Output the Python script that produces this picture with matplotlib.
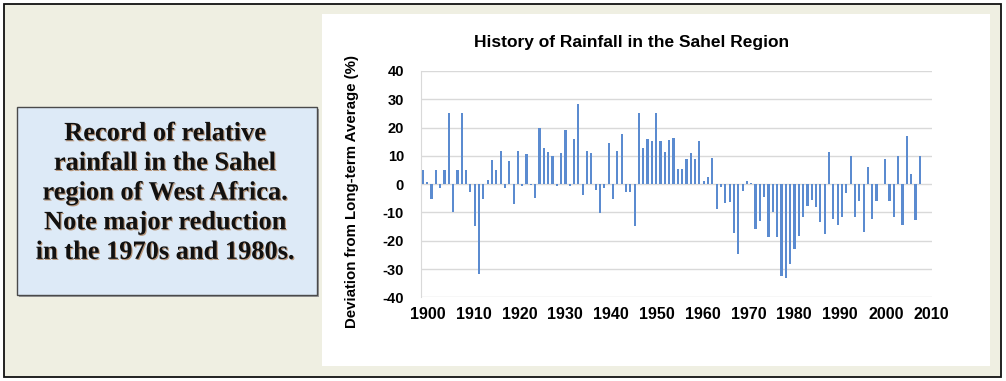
import matplotlib

matplotlib.use("Agg")
import matplotlib.pyplot as plt
import matplotlib.patheffects as pe
from matplotlib.patches import Rectangle
import numpy as np


FIG_W = 1006
FIG_H = 381
DPI = 100

BAR_COLOR = "#5B8BD0"
GRID_COLOR = "#D9D9D9"
PANEL_COLOR = "#EFEFE2"
NOTE_COLOR = "#DDEAF7"

# Sahel rainfall, deviation from long-term average (%), one value per year
first_year = 1900
rainfall_deviation = [
    5.0, 0.7, -5.2, 5.0, -1.2, 5.0, 25.0, -9.9, 5.0, 25.0,
    5.0, -2.6, -14.7, -31.7, -5.2, 1.5, 8.6, 5.1, 11.6, -1.4,
    8.2, -7.1, 11.6, -0.8, 10.6, -0.3, -4.8, 20.0, 12.7, 11.2,
    10.1, -0.7, 11.1, 19.1, -0.6, 16.1, 28.2, -3.8, 11.6, 11.1,
    -1.9, -10.2, -1.2, 14.4, -5.2, 11.7, 17.6, -2.7, -2.7, -14.7,
    25.0, 12.7, 16.1, 15.3, 25.0, 15.4, 11.2, 15.5, 16.4, 5.2,
    5.2, 8.8, 11.1, 8.8, 15.4, 1.2, 2.6, 9.4, -8.7, -0.9,
    -6.5, -6.3, -17.1, -24.6, -2.3, 1.2, 0.3, -15.8, -12.9, -4.7,
    -18.8, -10.0, -18.8, -32.3, -33.3, -28.4, -22.8, -18.4, -11.7, -7.9,
    -5.6, -8.2, -13.3, -17.5, 11.5, -12.3, -14.3, -11.6, -3.2, 10.0,
    -11.7, -6.1, -17.0, 6.1, -12.3, -5.9, 0.0, 9.0, -5.8, -11.7,
    10.0, -14.6, 17.0, 3.5, -12.8, 10.0,
]
decade_labels = ["1900", "1910", "1920", "1930", "1940", "1950",
                 "1960", "1970", "1980", "1990", "2000", "2010"]
y_ticks = [40, 30, 20, 10, 0, -10, -20, -30, -40]

note_text = ("Record of relative\nrainfall in the Sahel\nregion of West Africa.\n"
             "Note major reduction\nin the 1970s and 1980s.")


def px_rect(x0, y0, x1, y1):
    # pixel box (top-left origin) -> figure-fraction rectangle
    return (x0 / FIG_W, 1 - y1 / FIG_H, (x1 - x0) / FIG_W, (y1 - y0) / FIG_H)


fig = plt.figure(figsize=(FIG_W / DPI, FIG_H / DPI), dpi=DPI)
fig.patch.set_facecolor("white")

x0, y0, w, h = px_rect(4, 4, 1001, 377)
fig.patches.append(Rectangle((x0, y0), w, h, transform=fig.transFigure,
                             facecolor=PANEL_COLOR, edgecolor="#111111",
                             linewidth=1.3, zorder=0))
x0, y0, w, h = px_rect(322, 14, 990, 366)
fig.patches.append(Rectangle((x0, y0), w, h, transform=fig.transFigure,
                             facecolor="white", edgecolor="none", zorder=1))

# note box with a soft shadow
x0, y0, w, h = px_rect(19, 109, 319, 297)
fig.patches.append(Rectangle((x0, y0), w, h, transform=fig.transFigure,
                             facecolor="#9A9A9A", edgecolor="none", zorder=1))
x0, y0, w, h = px_rect(17, 107, 317, 295)
fig.patches.append(Rectangle((x0, y0), w, h, transform=fig.transFigure,
                             facecolor=NOTE_COLOR, edgecolor="#4A4A4A",
                             linewidth=1.0, zorder=2))
fig.text(165 / FIG_W, 1 - 193 / FIG_H, note_text, ha="center", va="center",
         fontsize=19, fontweight="bold", family="Liberation Serif",
         linespacing=1.37, color="#111111", zorder=3,
         path_effects=[pe.SimplePatchShadow(offset=(0.8, -0.8),
                                            shadow_rgbFace="#A0602A", alpha=0.6),
                       pe.Normal()])

ax = fig.add_axes(px_rect(420.7, 71, 931.7, 297.3))
ax.set_facecolor("none")
ax.set_zorder(4)

positions = np.arange(len(rainfall_deviation))
ax.bar(positions, rainfall_deviation, width=0.5, color=BAR_COLOR, zorder=3)

ax.set_xlim(-0.5, len(rainfall_deviation) - 0.5)
ax.set_ylim(-40, 40)
ax.set_yticks(y_ticks)
ax.set_yticklabels([str(v) for v in y_ticks])
# the source spaces its year labels a little wider than the bars
label_start = 1.16
label_step = 10.6
ax.set_xticks(label_start + label_step * np.arange(len(decade_labels)))
ax.set_xticklabels(decade_labels)

ax.grid(axis="y", color=GRID_COLOR, linewidth=1.0, zorder=0)
for side in ("top", "right", "bottom"):
    ax.spines[side].set_visible(False)
ax.spines["left"].set_color(GRID_COLOR)
ax.tick_params(axis="both", length=0)
ax.tick_params(axis="y", pad=12)
ax.tick_params(axis="x", pad=7)
for label in ax.get_yticklabels():
    label.set_family("Liberation Sans")
    label.set_fontweight("bold")
    label.set_fontsize(10.5)
for label in ax.get_xticklabels():
    label.set_family("Liberation Sans")
    label.set_fontweight("bold")
    label.set_fontsize(11.5)

fig.text(632 / FIG_W, 1 - 42 / FIG_H, "History of Rainfall in the Sahel Region",
         ha="center", va="center", fontsize=12.5, fontweight="bold",
         family="Liberation Sans", zorder=5)
fig.text(352 / FIG_W, 1 - 192 / FIG_H, "Deviation from Long-term Average (%)",
         ha="center", va="center", rotation=90, fontsize=10.8, fontweight="bold",
         family="Liberation Sans", zorder=5)

fig.savefig("out.png", dpi=DPI)
plt.close(fig)
